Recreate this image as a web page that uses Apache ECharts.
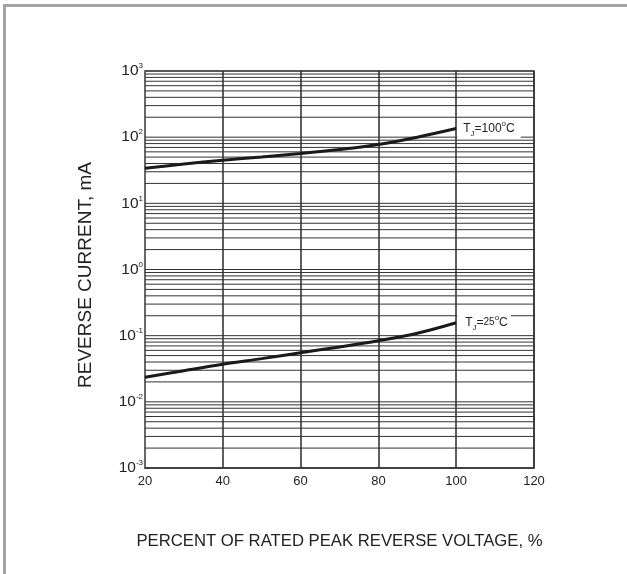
<!DOCTYPE html>
<html><head><meta charset="utf-8">
<script src="https://cdn.jsdelivr.net/npm/echarts@6/dist/echarts.min.js"></script>
<style>
html,body{margin:0;padding:0;background:#fff;overflow:hidden;}
#frame{position:absolute;left:3px;top:4px;width:624px;height:570px;border-left:3px solid #a3a3a3;border-top:3px solid #a3a3a3;box-sizing:border-box;}
#c{position:absolute;left:0;top:0;width:627px;height:574px;}
</style></head><body>
<div id="frame"></div>
<div id="c"></div>
<script>
// Data
const percentRated = [20, 30, 40, 50, 60, 70, 80, 90, 100];
const currentTj100 = [34, 39.2, 44.8, 50.3, 56.6, 65, 77.5, 100, 135];
const currentTj25 = [0.0235, 0.0296, 0.037, 0.045, 0.0553, 0.0675, 0.084, 0.109, 0.157];
const xTickLabels = [20, 40, 60, 80, 100, 120];
const yDecades = [0.001, 0.01, 0.1, 1, 10, 100, 1000];
const minorMultipliers = [1, 2, 3, 4, 5, 6, 7, 8, 9];

const gridValues = [];
for (let d = 0; d < yDecades.length - 1; d++) {
  for (const m of minorMultipliers) gridValues.push(+(yDecades[d] * m).toPrecision(3));
}
gridValues.push(yDecades[yDecades.length - 1]);

const FONT = "'Liberation Sans', Arial, sans-serif";
const chart = echarts.init(document.getElementById('c'), null, {renderer: 'canvas'});

function pairs(xs, ys) { return xs.map((x, i) => [x, ys[i]]); }

const labelRich = {
  t: {fontSize: 12, fontFamily: FONT, color: '#222', lineHeight: 18, verticalAlign: 'middle'},
  s: {fontSize: 10, fontFamily: FONT, color: '#222', lineHeight: 18, verticalAlign: 'middle'},
  sub: {fontSize: 8, fontFamily: FONT, color: '#222', lineHeight: 8, verticalAlign: 'bottom'},
  sup: {fontSize: 8, fontFamily: FONT, color: '#222', lineHeight: 9, verticalAlign: 'top'}
};

chart.setOption({
  animation: false,
  backgroundColor: 'transparent',
  grid: {left: 145, right: 93, top: 71, bottom: 106, show: true, borderColor: '#555', borderWidth: 1.5, backgroundColor: 'transparent'},
  xAxis: {
    type: 'value', min: 20, max: 120, interval: 20,
    name: 'PERCENT OF RATED PEAK REVERSE VOLTAGE, %',
    nameLocation: 'middle', nameGap: 65,
    nameTextStyle: {fontSize: 16.7, fontFamily: FONT, color: '#222'},
    axisLine: {show: true, lineStyle: {color: '#444', width: 1.5}},
    axisTick: {show: false},
    axisLabel: {fontSize: 13, fontFamily: FONT, color: '#222', margin: 7,
      formatter: v => xTickLabels.includes(v) ? String(v) : ''},
    splitLine: {show: true, lineStyle: {color: '#2a2a2a', width: 1.5}}
  },
  yAxis: {
    type: 'log', logBase: 10, min: 0.001, max: 1000, splitNumber: 6,
    name: 'REVERSE CURRENT, mA',
    nameLocation: 'middle', nameGap: 50, nameRotate: 90,
    nameTextStyle: {fontSize: 19, fontFamily: FONT, color: '#222', padding: [0, 11, 0, 0]},
    axisLine: {show: true, lineStyle: {color: '#777', width: 1.5}},
    axisTick: {show: false},
    splitLine: {show: false},
    axisLabel: {
      margin: 2,
      formatter: v => {
        const e = Math.round(Math.log10(v));
        return '{b|10}{e|' + e + '}';
      },
      rich: {
        b: {fontSize: 15.5, fontFamily: FONT, color: '#222', lineHeight: 18, verticalAlign: 'middle'},
        e: {fontSize: 8, fontFamily: FONT, color: '#222', lineHeight: 13, verticalAlign: 'top'}
      }
    }
  },
  series: [
    {
      type: 'custom', silent: true, z: 1,
      data: gridValues.map(v => [v]),
      encode: {y: 0},
      renderItem: (params, api) => {
        const v = api.value(0);
        const p1 = api.coord([20, v]);
        const p2 = api.coord([120, v]);
        return {
          type: 'line',
          shape: {x1: p1[0], y1: p1[1], x2: p2[0], y2: p2[1]},
          style: {stroke: '#333', lineWidth: 1}
        };
      }
    },
    {
      name: 'TJ=100C', type: 'line', smooth: 0.35, showSymbol: false, z: 5,
      data: pairs(percentRated, currentTj100),
      lineStyle: {color: '#1a1a1a', width: 3},
      endLabel: {
        show: true, distance: 1, backgroundColor: '#fff', padding: [1, 6, 1, 6],
        formatter: '{t|T}{sub|J}{t|=100}{sup|o}{t|C}', rich: labelRich
      }
    },
    {
      name: 'TJ=25C', type: 'line', smooth: 0.35, showSymbol: false, z: 5,
      data: pairs(percentRated, currentTj25),
      lineStyle: {color: '#1a1a1a', width: 3},
      endLabel: {
        show: true, distance: 1, backgroundColor: '#fff', padding: [0, 3, 0, 8],
        formatter: '{t|T}{sub|J}{t|=}{s|25}{sup|o}{t|C}', rich: labelRich
      }
    }
  ]
});
</script>
</body></html>
